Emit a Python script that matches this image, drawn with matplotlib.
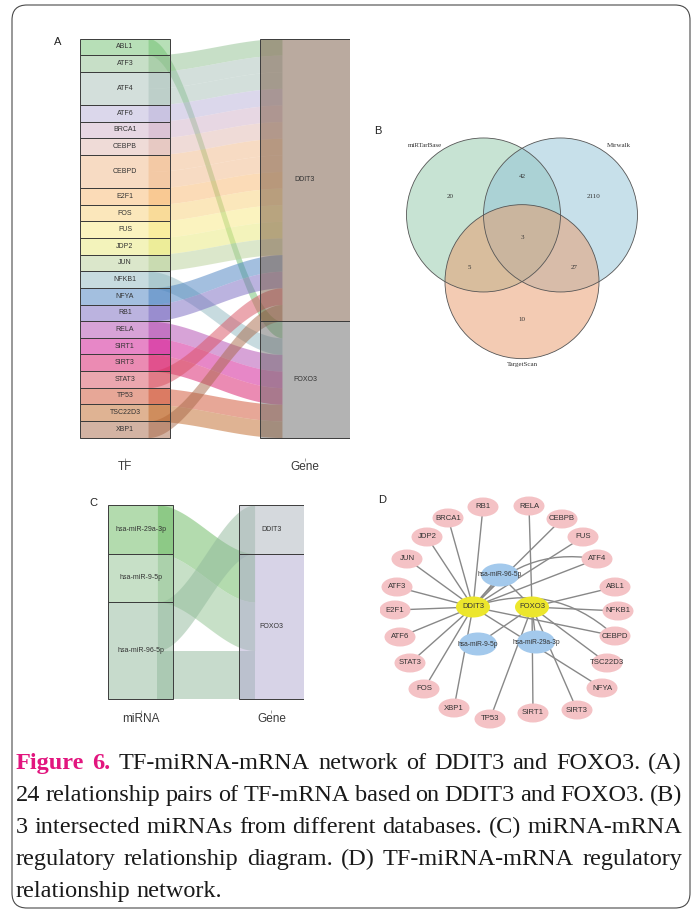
import numpy as np
import matplotlib.pyplot as plt
from matplotlib.colors import to_rgba
from matplotlib.patches import Rectangle, Circle, Ellipse, FancyBboxPatch, FancyArrowPatch

plt.rcParams['font.family'] = ['Liberation Sans', 'DejaVu Sans']

# TF -> target gene pairs (24 links)
tf_names = ["ABL1", "ATF3", "ATF4", "ATF6", "BRCA1", "CEBPB", "CEBPD", "E2F1", "FOS", "FUS",
            "JDP2", "JUN", "NFKB1", "NFYA", "RB1", "RELA", "SIRT1", "SIRT3", "STAT3", "TP53",
            "TSC22D3", "XBP1"]
tf_targets = [["FOXO3"], ["DDIT3"], ["DDIT3", "DDIT3"], ["DDIT3"], ["DDIT3"], ["DDIT3"],
              ["DDIT3", "DDIT3"], ["DDIT3"], ["DDIT3"], ["DDIT3"], ["DDIT3"], ["DDIT3"],
              ["FOXO3"], ["DDIT3"], ["DDIT3"], ["FOXO3"], ["FOXO3"], ["FOXO3"], ["DDIT3"],
              ["FOXO3"], ["FOXO3"], ["DDIT3"]]
tf_colors = ["#71c171", "#91c191", "#a9c1b9", "#b9b1d9", "#d1b1c9", "#e1b9b1", "#f1b989",
             "#f9b971", "#f9d179", "#f9e981", "#e9e979", "#b9d199", "#91b9c1", "#4981c1",
             "#7969c1", "#b149b1", "#d11191", "#d91969", "#d95161", "#d15131", "#c16929",
             "#a96949"]
genes = ["DDIT3", "FOXO3"]
gene_colors_a = ["#775741", "#696969"]

# miRNA -> target gene pairs
mirnas = ["hsa-miR-29a-3p", "hsa-miR-9-5p", "hsa-miR-96-5p"]
mirna_targets = [["FOXO3"], ["FOXO3"], ["DDIT3", "FOXO3"]]
mirna_colors = ["#69b95f", "#91c391", "#91b99b"]
gene_colors_c = ["#adb5bd", "#b1a9d1"]

# three-database venn
venn_sets = ["miRTarBase", "Mirwalk", "TargetScan"]
venn_colors = ["#91c9a9", "#91c3d7", "#e99969"]
venn_regions = ["100", "010", "001", "110", "101", "011", "111"]
venn_counts = [20, 2110, 10, 42, 5, 27, 3]

# network layout (Cytoscape coordinates)
net_pos = {
    "RB1": (483, 507), "RELA": (529, 506), "BRCA1": (448, 518), "CEBPB": (562, 519),
    "JDP2": (427, 537), "FUS": (583, 537), "JUN": (407, 559), "ATF4": (597, 559),
    "ATF3": (397, 587), "ABL1": (615, 587), "E2F1": (395, 610), "NFKB1": (618, 611),
    "ATF6": (400, 637), "CEBPD": (615, 636), "STAT3": (410, 663), "TSC22D3": (607, 663),
    "FOS": (424, 689), "NFYA": (602, 688), "XBP1": (454, 708), "SIRT3": (577, 710),
    "TP53": (490, 719), "SIRT1": (533, 713),
    "DDIT3": (473, 607), "FOXO3": (532, 607),
    "hsa-miR-96-5p": (500, 575), "hsa-miR-9-5p": (478, 644), "hsa-miR-29a-3p": (536, 642),
}

caption_head = "Figure 6."
caption_lines = [
    "TF-miRNA-mRNA network of DDIT3 and FOXO3. (A)",
    "24 relationship pairs of TF-mRNA based on DDIT3 and FOXO3. (B)",
    "3 intersected miRNAs from different databases. (C) miRNA-mRNA",
    "regulatory relationship diagram. (D) TF-miRNA-mRNA regulatory",
    "relationship network.",
]

W, H = 696, 913
fig = plt.figure(figsize=(W / 100, H / 100), dpi=100)


def px_axes(x0, y0, x1, y1):
    ax = fig.add_axes([x0 / W, 1 - y1 / H, (x1 - x0) / W, (y1 - y0) / H])
    ax.set_facecolor('none')
    return ax


def alluvial(ax, names, targets, colors, gnames, gcolors, lab_size, ymax, xlabels):
    w, strip = 0.5, 0.122
    sizes = np.array([len(t) for t in targets])
    tops = np.concatenate([[0], np.cumsum(sizes)[:-1]])
    gsizes = np.array([sum(t.count(g) for t in targets) for g in gnames])
    gtops = np.concatenate([[0], np.cumsum(gsizes)[:-1]])

    xs = np.linspace(1 + w / 2 - strip, 2 - w / 2 + strip, 200)
    t = (xs - xs[0]) / (xs[-1] - xs[0])
    s = t * t * (3 - 2 * t)
    gcur = gtops.astype(float)
    for i, tg in enumerate(targets):
        for k, g in enumerate(sorted(tg, key=gnames.index)):
            j = gnames.index(g)
            y0 = tops[i] + k
            y1 = gcur[j]
            gcur[j] += 1
            top = y0 + (y1 - y0) * s
            ax.fill_between(xs, top, top + 1, color=colors[i], alpha=0.5, lw=0)

    strata = [(1, n, tp, sz, c) for n, tp, sz, c in zip(names, tops, sizes, colors)]
    strata += [(2, n, tp, sz, c) for n, tp, sz, c in zip(gnames, gtops, gsizes, gcolors)]
    for x, nm, tp, sz, c in strata:
        ax.add_patch(Rectangle((x - w / 2, tp), w, sz, facecolor=to_rgba(c, 0.5),
                               edgecolor='#3c3c3c', lw=0.7))
        ax.text(x, tp + sz / 2, nm, ha='center', va='center', fontsize=lab_size, color='#333333')

    ax.set_xlim(0.75, 2.25)
    ax.set_ylim(ymax, 0)
    ax.set_xticks([1, 2], xlabels)
    ax.set_yticks([])
    ax.tick_params(axis='x', length=2, width=0.5, color='#777777', pad=0.2,
                   labelsize=8.5, labelcolor='#3a3a3a')
    for sp in ax.spines.values():
        sp.set_visible(False)


# page frame, panel letters and caption
ov = px_axes(0, 0, W, H)
ov.set_xlim(0, W)
ov.set_ylim(H, 0)
ov.axis('off')
ov.add_patch(FancyBboxPatch((12, 5), 678, 903, boxstyle="round,pad=0,rounding_size=15",
                            facecolor='white', edgecolor='#4a4a4a', lw=0.8))
for letter, (lx, ly) in zip("ABCD", [(58, 42), (378, 131), (93, 503), (382, 500)]):
    ov.text(lx, ly, letter, fontsize=8, ha='center', va='center', color='#222222')

# (A) TF -> gene alluvial
ax_a = px_axes(80, 38.5, 350, 458)
n_a = sum(len(t) for t in tf_targets)
alluvial(ax_a, tf_names, tf_targets, tf_colors, genes, gene_colors_a, 5,
         n_a * (458 - 38.5) / (437.5 - 38.5), ["TF", "Gene"])

# (C) miRNA -> gene alluvial
ax_c = px_axes(108, 505, 304, 710)
n_c = sum(len(t) for t in mirna_targets)
alluvial(ax_c, mirnas, mirna_targets, mirna_colors, genes, gene_colors_c, 5,
         n_c * (710 - 505) / (699 - 505), ["miRNA", "Gene"])

# (B) venn diagram
ax_b = px_axes(368, 114, 676, 383.5)
ax_b.set_xlim(-2, 2)
ax_b.set_ylim(-1.9, 1.6)
ax_b.axis('off')
set_angles = np.radians([150, 30, 270])
centers = np.c_[np.cos(set_angles), np.sin(set_angles)] / np.sqrt(3)
for c, col in zip(centers, venn_colors):
    ax_b.add_patch(Circle(c, 1.0, facecolor=col, alpha=0.5, edgecolor='none'))
for c in centers:
    ax_b.add_patch(Circle(c, 1.0, facecolor='none', edgecolor='#555555', lw=0.6))
serif = ['Liberation Serif', 'DejaVu Serif']
for code, cnt in zip(venn_regions, venn_counts):
    inside = [k for k, ch in enumerate(code) if ch == '1']
    if len(inside) == 1:
        a, r = set_angles[inside[0]], 1.07
    elif len(inside) == 2:
        a, r = set_angles[[k for k in range(3) if k not in inside][0]] + np.pi, 0.79
    else:
        a, r = 0.0, 0.0
    ax_b.text(r * np.cos(a), r * np.sin(a), str(cnt), ha='center', va='center',
              fontsize=5, family=serif, color='#333333')
for k, name in enumerate(venn_sets):
    la = np.radians([130, 50, 270][k])
    lr = [1.18, 1.18, 1.08][k]
    ax_b.text(centers[k][0] + lr * np.cos(la), centers[k][1] + lr * np.sin(la), name,
              ha='center', va='center', fontsize=5, family=serif, color='#333333')

# (D) TF-miRNA-mRNA network
ax_d = px_axes(380, 495, 640, 730)
ax_d.set_xlim(380, 640)
ax_d.set_ylim(730, 495)
ax_d.axis('off')
edges = [(tf, g, k) for tf, tg in zip(tf_names, tf_targets) for k, g in enumerate(tg)]
edges += [(m, g, 0) for m, tg in zip(mirnas, mirna_targets) for g in tg]
for a, b, k in edges:
    (xa, ya), (xb, yb) = net_pos[b], net_pos[a]
    if k == 0:
        ax_d.plot([xa, xb], [ya, yb], color='#888888', lw=1.0, zorder=1)
    else:
        ax_d.add_patch(FancyArrowPatch((xa, ya), (xb, yb), connectionstyle="arc3,rad=-0.3",
                                       arrowstyle='-', color='#888888', lw=1.0, zorder=1))
for name, (x, y) in net_pos.items():
    if name in genes:
        fc, ew, eh, fs = '#ece62c', 34, 21, 5.5
    elif name in mirnas:
        fc, ew, eh, fs = '#a3c9ec', 38, 23, 4.8
    else:
        fc, ew, eh, fs = '#f4c2c5', 31, 19, 5.6
    ax_d.add_patch(Ellipse((x, y), ew, eh, facecolor=fc, edgecolor='none', zorder=3))
    ax_d.text(x, y, name, ha='center', va='center', fontsize=fs, color='#333333', zorder=4)

# justified caption
renderer = fig.canvas.get_renderer()
cap_size = 17.5
x_left, x_right = 16, 682
for li, line in enumerate(caption_lines):
    words = [(wd, False) for wd in line.split()]
    if li == 0:
        words = [(wd, True) for wd in caption_head.split()] + words
    texts = [ov.text(0, 769 + 32 * li, wd, fontsize=cap_size, family=serif, va='baseline',
                     fontweight='bold' if b else 'normal', color='#e2157e' if b else '#1a1a1a')
             for wd, b in words]
    widths = [tx.get_window_extent(renderer).width for tx in texts]
    if li < len(caption_lines) - 1:
        gap = (x_right - x_left - sum(widths)) / (len(words) - 1)
    else:
        gap = cap_size * 100 / 72 * 0.25
    x = x_left
    for tx, wd in zip(texts, widths):
        tx.set_x(x)
        x += wd + gap

fig.savefig("out.png", dpi=100)
